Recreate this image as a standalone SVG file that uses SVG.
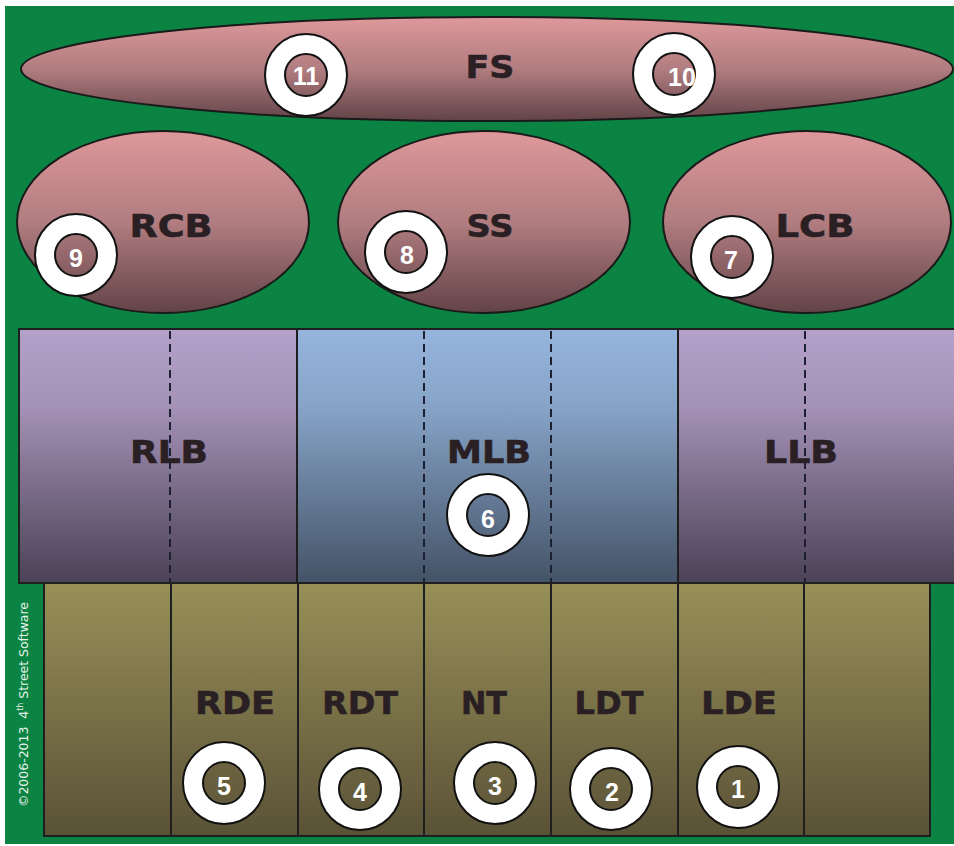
<svg xmlns="http://www.w3.org/2000/svg" width="954" height="846" viewBox="0 0 954 846">
  <style>
    .field { fill: #0b8443; }
    .shape { stroke: #1a1a1a; stroke-width: 2; }
    .cell { stroke: #1f1f1f; stroke-width: 2; }
    .lbl { font-family: "DejaVu Sans", "Liberation Sans", sans-serif; font-weight: bold; font-size: 32px; fill: #2a2024; text-anchor: middle; stroke: #2a2024; stroke-width: 0.6; }
    .ring { fill: #ffffff; fill-rule: evenodd; stroke: #111111; stroke-width: 2; }
    .num { font-family: "Liberation Sans", Arial, sans-serif; font-weight: bold; font-size: 25px; fill: #ffffff; text-anchor: middle; }
    .dash { stroke: #1c2030; stroke-width: 2; stroke-dasharray: 8 5; fill: none; }
    .copy { font-family: "DejaVu Sans", "Liberation Sans", sans-serif; font-size: 12.5px; fill: #e8f2ea; }
  </style>
  <defs>
    <linearGradient id="gPink" x1="0" y1="0" x2="0" y2="1">
      <stop offset="0" stop-color="#de989b"/>
      <stop offset="0.5" stop-color="#b17d80"/>
      <stop offset="1" stop-color="#624347"/>
    </linearGradient>
    <linearGradient id="gPurple" x1="0" y1="0" x2="0" y2="1">
      <stop offset="0" stop-color="#b4a1ca"/>
      <stop offset="0.3" stop-color="#a592b7"/>
      <stop offset="1" stop-color="#4b4256"/>
    </linearGradient>
    <linearGradient id="gBlue" x1="0" y1="0" x2="0" y2="1">
      <stop offset="0" stop-color="#96b5dd"/>
      <stop offset="0.3" stop-color="#87a4c8"/>
      <stop offset="1" stop-color="#445367"/>
    </linearGradient>
    <linearGradient id="gOlive" x1="0" y1="0" x2="0" y2="1">
      <stop offset="0" stop-color="#989058"/>
      <stop offset="1" stop-color="#5a5236"/>
    </linearGradient>
    <!-- white ring marker with transparent centre, drawn around 0,0 -->
    <path id="ring" class="ring" d="M-41,0 a41,41 0 1,0 82,0 a41,41 0 1,0 -82,0 Z M-21,0 a21,21 0 1,0 42,0 a21,21 0 1,0 -42,0 Z"/>
  </defs>

  <!-- page -->
  <rect x="0" y="0" width="954" height="846" fill="#ffffff"/>
  <rect class="field" x="5" y="6" width="949" height="838"/>

  <!-- front row -->
  <g id="FS">
    <ellipse class="shape" cx="487" cy="69" rx="466" ry="52" fill="url(#gPink)"/>
    <text class="lbl" x="490" y="78" textLength="49" lengthAdjust="spacingAndGlyphs">FS</text>
  </g>

  <g id="RCB">
    <ellipse class="shape" cx="163" cy="222" rx="146" ry="91" fill="url(#gPink)"/>
    <text class="lbl" x="171" y="237" textLength="83" lengthAdjust="spacingAndGlyphs">RCB</text>
  </g>
  <g id="SS">
    <ellipse class="shape" cx="484" cy="222" rx="146" ry="91" fill="url(#gPink)"/>
    <text class="lbl" x="490" y="237" textLength="47" lengthAdjust="spacingAndGlyphs">SS</text>
  </g>
  <g id="LCB">
    <ellipse class="shape" cx="807" cy="222" rx="144" ry="91" fill="url(#gPink)"/>
    <text class="lbl" x="815" y="237" textLength="79" lengthAdjust="spacingAndGlyphs">LCB</text>
  </g>

  <!-- linebacker band -->
  <g id="RLB">
    <rect class="cell" x="19" y="329" width="278" height="254" fill="url(#gPurple)"/>
    <text class="lbl" x="169" y="463" textLength="78" lengthAdjust="spacingAndGlyphs">RLB</text>
  </g>
  <g id="MLB">
    <rect class="cell" x="297" y="329" width="381" height="254" fill="url(#gBlue)"/>
    <text class="lbl" x="489" y="463" textLength="84" lengthAdjust="spacingAndGlyphs">MLB</text>
  </g>
  <g id="LLB">
    <rect class="cell" x="678" y="329" width="280" height="254" fill="url(#gPurple)"/>
    <text class="lbl" x="801" y="463" textLength="74" lengthAdjust="spacingAndGlyphs">LLB</text>
  </g>

  <!-- line band -->
  <g id="edge-right">
    <rect class="cell" x="44" y="583" width="127" height="253" fill="url(#gOlive)"/>
  </g>
  <g id="RDE">
    <rect class="cell" x="171" y="583" width="127" height="253" fill="url(#gOlive)"/>
    <text class="lbl" x="235" y="714" textLength="80" lengthAdjust="spacingAndGlyphs">RDE</text>
  </g>
  <g id="RDT">
    <rect class="cell" x="298" y="583" width="126" height="253" fill="url(#gOlive)"/>
    <text class="lbl" x="360" y="714" textLength="76" lengthAdjust="spacingAndGlyphs">RDT</text>
  </g>
  <g id="NT">
    <rect class="cell" x="424" y="583" width="127" height="253" fill="url(#gOlive)"/>
    <text class="lbl" x="484" y="714" textLength="46" lengthAdjust="spacingAndGlyphs">NT</text>
  </g>
  <g id="LDT">
    <rect class="cell" x="551" y="583" width="127" height="253" fill="url(#gOlive)"/>
    <text class="lbl" x="609" y="714" textLength="69" lengthAdjust="spacingAndGlyphs">LDT</text>
  </g>
  <g id="LDE">
    <rect class="cell" x="678" y="583" width="126" height="253" fill="url(#gOlive)"/>
    <text class="lbl" x="739" y="714" textLength="76" lengthAdjust="spacingAndGlyphs">LDE</text>
  </g>
  <g id="edge-left">
    <rect class="cell" x="804" y="583" width="126" height="253" fill="url(#gOlive)"/>
  </g>

  <!-- gap lines through the linebacker band -->
  <g id="dividers">
    <line class="dash" x1="170" y1="331" x2="170" y2="582"/>
    <line class="dash" x1="424" y1="331" x2="424" y2="582"/>
    <line class="dash" x1="551" y1="331" x2="551" y2="582"/>
    <line class="dash" x1="805" y1="331" x2="805" y2="582"/>
  </g>

  <!-- numbered position markers -->
  <g id="m11"><use href="#ring" x="306" y="75"/><text class="num" x="306" y="85">11</text></g>
  <g id="m10"><use href="#ring" x="674" y="74"/><text class="num" x="682" y="86">10</text></g>
  <g id="m9"><use href="#ring" x="76" y="255"/><text class="num" x="76" y="267">9</text></g>
  <g id="m8"><use href="#ring" x="406" y="252"/><text class="num" x="407" y="264">8</text></g>
  <g id="m7"><use href="#ring" x="732" y="257"/><text class="num" x="731" y="269">7</text></g>
  <g id="m6"><use href="#ring" x="488" y="515"/><text class="num" x="488" y="528">6</text></g>
  <g id="m5"><use href="#ring" x="224" y="783"/><text class="num" x="224" y="795">5</text></g>
  <g id="m4"><use href="#ring" x="360" y="789"/><text class="num" x="360" y="801">4</text></g>
  <g id="m3"><use href="#ring" x="495" y="783"/><text class="num" x="495" y="795">3</text></g>
  <g id="m2"><use href="#ring" x="611" y="789"/><text class="num" x="612" y="801">2</text></g>
  <g id="m1"><use href="#ring" x="738" y="787"/><text class="num" x="738" y="798">1</text></g>

  <!-- credit -->
  <text class="copy" transform="translate(28,807) rotate(-90)" textLength="205" lengthAdjust="spacingAndGlyphs">©2006-2013&#160;&#160;4<tspan font-size="8" dy="-5">th</tspan><tspan dy="5">&#160;Street Software</tspan></text>
</svg>
